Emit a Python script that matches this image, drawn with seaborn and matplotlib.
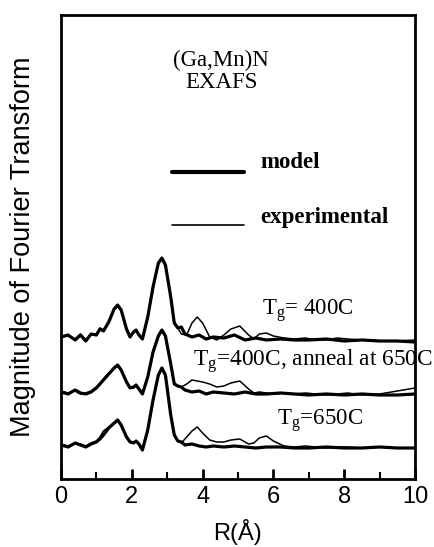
import pandas as pd
import matplotlib
matplotlib.use("Agg")
import matplotlib.pyplot as plt
from matplotlib.ticker import MultipleLocator
import seaborn as sns

# values: magnitude above each curve's own baseline
r_model = [0.0, 0.2, 0.4, 0.55, 0.7, 0.85, 1.0, 1.1, 1.2, 1.35, 1.5, 1.6, 1.7, 1.85,
           1.95, 2.05, 2.12, 2.2, 2.3, 2.45, 2.6, 2.75, 2.85, 2.95, 3.1, 3.2, 3.3,
           3.4, 3.5, 3.7, 3.9, 4.1, 4.3, 4.6, 4.9, 5.2, 5.5, 5.8, 6.2, 6.6, 7.0,
           7.5, 8.0, 8.5, 9.0, 9.5, 10.0]
model_400 = [0, 2, -3, 2, -4, 3, 2, 8, 6, 15, 28, 32, 27, 8,
             0, 5, 7, 2, -2, 20, 50, 74, 79, 72, 40, 14, 9,
             10, 3, 0, 2, -2, 0, -1, 2, -3, -1, -3, -2, -3, -3,
             -2, -4, -3, -4, -4, -5]
model_anneal = [0, -2, 2, -1, -2, 0, 4, 8, 12, 18, 24, 27, 22, 10,
                4, 5, 7, 3, -2, 15, 40, 56, 62, 56, 28, 8, 6,
                5, 2, 0, 1, -2, 0, -1, -2, 0, -2, -2, -1, -2, -3,
                -2, -3, -2, -3, -3, -2]
model_650 = [0, -2, 2, 0, -2, 1, 3, 6, 10, 17, 22, 25, 20, 8,
             3, 2, 4, 1, -5, 15, 45, 70, 77, 70, 30, 10, 4,
             3, 0, 1, -1, -2, -1, -2, -1, -2, -3, -2, -2, -3, -3,
             -2, -3, -3, -2, -3, -3]

r_exp = [0.0, 0.2, 0.4, 0.55, 0.7, 0.85, 1.0, 1.1, 1.2, 1.35, 1.5, 1.6, 1.7, 1.85,
         1.95, 2.05, 2.12, 2.2, 2.3, 2.45, 2.6, 2.75, 2.85, 2.95, 3.1, 3.2, 3.3,
         3.4, 3.55, 3.7, 3.85, 4.0, 4.2, 4.4, 4.6, 4.8, 5.05, 5.3, 5.45, 5.6, 5.8,
         6.0, 6.3, 6.6, 6.9, 7.2, 7.5, 7.8, 8.1, 8.5, 9.0, 9.5, 10.0]
exp_400 = [1, 1, -2, 3, -3, 2, 3, 9, 7, 16, 27, 31, 26, 9,
           1, 5, 6, 3, -1, 19, 49, 73, 78, 71, 41, 15, 9,
           3, 2, 14, 20, 14, 0, -3, 2, 8, 11, 2, -2, 3, 4,
           1, -1, -2, -1, -3, -3, -1, -2, -3, -4, -4, -3]
exp_anneal = [1, -1, 1, -2, -1, 1, 5, 9, 13, 19, 23, 26, 21, 11,
              5, 4, 6, 4, -1, 14, 39, 55, 61, 55, 29, 9, 6,
              5, 8, 12, 11, 10, 8, 5, 6, 9, 11, 3, -1, 0, -1,
              -2, -1, -2, -1, -2, -3, -2, -1, -3, -2, 1, 4]
exp_650 = [1, -1, 1, 1, -1, 2, 4, 8, 14, 18, 21, 24, 19, 9,
           4, 2, 3, 2, -4, 14, 44, 69, 76, 69, 31, 11, 4,
           2, 8, 14, 18, 12, 5, 3, 3, 5, 6, 1, 2, 7, 9,
           4, -1, -2, -1, -2, -3, -2, -2, -3, -2, -3, -3]

offsets = {"400": 142, "anneal": 87, "650": 34}

curve_labels = ["T$_{\\mathrm{g}}$= 400C",
                "T$_{\\mathrm{g}}$=400C, anneal at 650C",
                "T$_{\\mathrm{g}}$=650C"]

sns.set_style("ticks")
plt.rcParams["font.family"] = ["Liberation Sans", "DejaVu Sans"]
plt.rcParams["mathtext.fontset"] = "custom"
plt.rcParams["mathtext.rm"] = "Liberation Serif"
for k in ["text.color", "axes.labelcolor", "xtick.color", "ytick.color",
          "axes.edgecolor"]:
    plt.rcParams[k] = "black"

fig = plt.figure(figsize=(4.35, 5.47), dpi=100)
ax = fig.add_axes([61 / 435, 68 / 547, 354 / 435, 464 / 547])

for key, mod, exp in [("400", model_400, exp_400),
                      ("anneal", model_anneal, exp_anneal),
                      ("650", model_650, exp_650)]:
    off = offsets[key]
    dm = pd.DataFrame({"R": r_model, "M": [v + off for v in mod]})
    de = pd.DataFrame({"R": r_exp, "M": [v + off for v in exp]})
    sns.lineplot(data=de, x="R", y="M", ax=ax, color="black", lw=1.1,
                 estimator=None, sort=False)
    sns.lineplot(data=dm, x="R", y="M", ax=ax, color="black", lw=2.3,
                 estimator=None, sort=False)

ax.set_xlim(0, 10)
ax.set_ylim(0, 464)
ax.set_yticks([])
ax.xaxis.set_major_locator(MultipleLocator(2))
ax.xaxis.set_minor_locator(MultipleLocator(1))
ax.tick_params(axis="x", which="major", direction="in", length=7, width=2,
               labelsize=17, pad=5)
ax.tick_params(axis="x", which="minor", direction="in", length=5, width=1.5)
for s in ax.spines.values():
    s.set_linewidth(2)

ax.set_xlabel("R(Å)", fontsize=17, labelpad=8)
ax.set_ylabel("Magnitude of Fourier Transform", fontsize=19.5, labelpad=18)

serif = "Liberation Serif"
fs = 16.5
ax.text(4.52, 419, "(Ga,Mn)N", ha="center", va="center", family=serif, fontsize=fs)
ax.text(4.52, 397, "EXAFS", ha="center", va="center", family=serif, fontsize=fs)

# legend drawn by hand
ax.plot([3.13, 5.17], [307, 307], color="black", lw=3)
ax.plot([3.13, 5.17], [254, 254], color="black", lw=1.2)
ax.text(5.62, 316, "model", family=serif, fontsize=fs, weight="bold",
        va="center")
ax.text(5.62, 262, "experimental", family=serif, fontsize=fs, weight="bold",
        va="center")

ax.text(5.68, 164, curve_labels[0], family=serif, fontsize=fs, va="baseline")
ax.text(3.73, 113, curve_labels[1], family=serif, fontsize=16.8, va="baseline")
ax.text(6.1, 54, curve_labels[2], family=serif, fontsize=fs, va="baseline")

fig.savefig("out.png", dpi=100)
